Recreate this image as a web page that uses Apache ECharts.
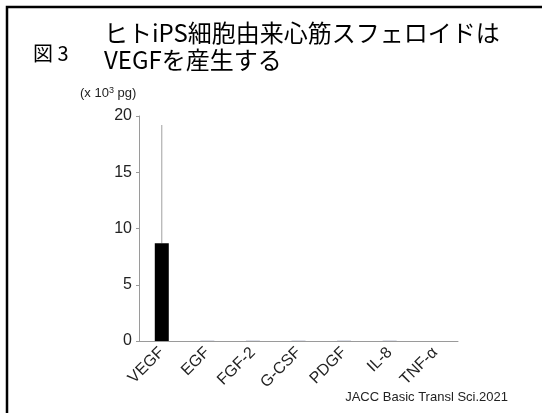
<!DOCTYPE html>
<html>
<head>
<meta charset="utf-8">
<script src="https://cdn.jsdelivr.net/npm/echarts@6/dist/echarts.min.js"></script>
<style>
html, body { margin: 0; padding: 0; background: #fff; }
#main { width: 542px; height: 413px; }
</style>
</head>
<body>
<div id="main"></div>
<script>
var categories = ['VEGF', 'EGF', 'FGF-2', 'G-CSF', 'PDGF', 'IL-8', 'TNF-α'];
var means = [8.7, 0.03, 0.03, 0.03, 0.03, 0.03, 0];
var errTop = [19.2, null, null, null, null, null, null];
var yTicks = [0, 5, 10, 15, 20];

var cjk = '"Noto Sans CJK JP", sans-serif';
var latin = 'Arial, "Liberation Sans", sans-serif';

var chart = echarts.init(document.getElementById('main'));
chart.setOption({
	animation: false,
	grid: { left: 139, right: 84, top: 116, bottom: 72 },
	xAxis: {
		type: 'category',
		data: categories,
		axisLine: { lineStyle: { color: '#9a9a9a', width: 1 } },
		axisTick: { show: false },
		axisLabel: {
			rotate: 45, color: '#222', fontSize: 16, margin: 9,
			fontFamily: latin
		}
	},
	yAxis: {
		type: 'value',
		min: 0, max: 20, interval: 5,
		axisLine: { show: true, lineStyle: { color: '#9a9a9a', width: 1 } },
		axisTick: { show: true, length: 3, lineStyle: { color: '#9a9a9a' } },
		splitLine: { show: false },
		axisLabel: {
			color: '#222', fontSize: 16, margin: 7,
			fontFamily: latin,
			formatter: function (v) { return yTicks.indexOf(v) >= 0 ? String(v) : ''; }
		}
	},
	series: [{
		type: 'bar',
		data: means.map(function (v, i) {
			return { value: v, itemStyle: { color: i === 0 ? '#000' : '#9aa0b8' } };
		}),
		barWidth: 14
	}, {
		type: 'custom',
		data: errTop.map(function (v, i) { return [i, means[i], v]; }),
		renderItem: function (params, api) {
			if (api.value(2) == null || isNaN(api.value(2))) return null;
			var p0 = api.coord([api.value(0), api.value(1)]);
			var p1 = api.coord([api.value(0), api.value(2)]);
			return {
				type: 'line',
				shape: { x1: p0[0], y1: p0[1], x2: p1[0], y2: p1[1] },
				style: { stroke: '#a0a0a0', lineWidth: 1 }
			};
		},
		z: 1
	}],
	graphic: [
		{ type: 'polyline', shape: { points: [[7, 413], [7, 7], [542, 7]] },
		  style: { stroke: '#000', lineWidth: 2.5, fill: null } },
		{ type: 'text', left: 33, top: 43,
		  style: { text: '図 3', font: '20px ' + cjk, fill: '#000' } },
		{ type: 'text', left: 104, top: 21,
		  style: { text: 'ヒトiPS細胞由来心筋スフェロイドは', font: '24px ' + cjk, fill: '#000' } },
		{ type: 'text', left: 104, top: 48,
		  style: { text: 'VEGFを産生する', font: '24px ' + cjk, fill: '#000' } },
		{ type: 'text', left: 80, top: 86,
		  style: { rich: {
			  a: { fontSize: 13, fontFamily: latin, fill: '#222' },
			  s: { fontSize: 9, fontFamily: latin, fill: '#222', verticalAlign: 'top', padding: [0, 0, 6, 0] }
		  }, text: '{a|(x 10}{s|3}{a| pg)}' } },
		{ type: 'text', right: 34, top: 391,
		  style: { text: 'JACC Basic Transl Sci.2021', font: '13px ' + latin, fill: '#222' } }
	]
});
</script>
</body>
</html>
